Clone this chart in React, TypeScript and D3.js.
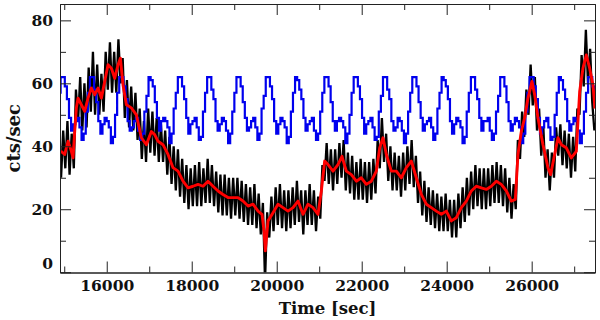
import React, { useEffect, useRef } from "react";
import { select, scaleLinear, line, curveStepAfter, axisBottom, axisLeft, axisTop, axisRight } from "d3";

const width = 600;
const height = 320;
const margin = { top: 4, right: 5, bottom: 47.5, left: 60 };

const timeDomain = [14900, 27490];
const rateDomain = [-0.1, 85.2];

const xMajorTicks = [16000, 18000, 20000, 22000, 24000, 26000];
const xMinorTicks = [15000, 17000, 19000, 21000, 23000, 25000, 27000];
const yMajorTicks = [0, 20, 40, 60, 80];
const yMinorTicks = [10, 30, 50, 70];

// raw light curve, 50 s bins
const blackStart = 14925;
const blackBin = 50;
const blackRate = [
  30, 45, 33, 48, 31, 44, 33, 58, 48, 62,
  45, 60, 46, 65, 51, 70, 50, 66, 50, 63,
  51, 70, 58, 73, 57, 70, 57, 74, 60, 68,
  49, 61, 46, 59, 45, 57, 42, 52, 36, 48,
  35, 52, 38, 51, 37, 49, 35, 47, 35, 45,
  31, 43, 28, 40, 26, 39, 24, 36, 22, 34,
  20, 33, 21, 34, 21, 35, 21, 33, 22, 36,
  22, 34, 21, 32, 19, 31, 18, 31, 18, 30,
  17, 30, 18, 30, 17, 29, 16, 28, 15, 27,
  15, 28, 14, 25, 12, 22, -3, 19, 11, 24,
  13, 27, 15, 28, 14, 26, 13, 26, 14, 27,
  15, 29, 16, 26, 12, 26, 15, 28, 15, 26,
  13, 24, 17, 34, 29, 41, 28, 39, 26, 39,
  28, 41, 30, 42, 26, 38, 25, 37, 23, 35,
  23, 36, 23, 35, 22, 35, 23, 36, 25, 42,
  33, 49, 35, 44, 29, 40, 26, 38, 26, 37,
  24, 38, 26, 40, 28, 42, 27, 37, 22, 32,
  18, 29, 16, 27, 15, 26, 14, 25, 13, 24,
  13, 25, 13, 23, 11, 23, 11, 25, 14, 27,
  16, 30, 18, 32, 20, 34, 21, 33, 20, 33,
  20, 33, 21, 34, 22, 35, 22, 34, 21, 33,
  19, 30, 17, 28, 20, 42, 36, 51, 43, 58,
  50, 66, 53, 62, 45, 52, 37, 46, 30, 39,
  26, 38, 30, 46, 37, 47, 34, 45, 33, 44,
  30, 43, 32, 52, 50, 69, 59, 77, 60, 71,
  54, 45,
];

// smoothed curve
const redTime = [
  14920, 15011, 15089, 15168, 15207, 15246, 15285, 15325, 15403, 15481,
  15560, 15638, 15717, 15795, 15874, 15952, 16030, 16109, 16187, 16266,
  16321, 16383, 16462, 16579, 16697, 16815, 16932, 17050, 17128, 17207,
  17324, 17442, 17560, 17677, 17795, 17913, 18030, 18148, 18266, 18383,
  18501, 18619, 18736, 18854, 18972, 19089, 19207, 19325, 19442, 19560,
  19654, 19701, 19732, 19795, 19913, 20030, 20148, 20266, 20383, 20501,
  20619, 20736, 20854, 20972, 21050, 21128, 21207, 21325, 21442, 21536,
  21638, 21756, 21874, 21991, 22109, 22227, 22344, 22423, 22501, 22580,
  22697, 22815, 22933, 23050, 23168, 23285, 23403, 23521, 23638, 23756,
  23874, 23991, 24109, 24227, 24344, 24462, 24580, 24697, 24815, 24932,
  25050, 25168, 25285, 25403, 25521, 25615, 25677, 25756, 25834, 25913,
  26007, 26070, 26148, 26266, 26383, 26446, 26540, 26619, 26697, 26815,
  26932, 27050, 27129, 27207, 27285, 27364, 27442, 27490,
];
const redRate = [
  38.5, 37.4, 41.6, 38.4, 36.3, 44.7, 52.2, 55.3, 53.2, 51.1,
  55.3, 58.5, 56.4, 58.5, 55.3, 60.6, 65.9, 64.8, 61.6, 65.9,
  68.0, 59.5, 53.2, 52.2, 50.0, 42.7, 40.5, 44.7, 43.7, 41.6,
  40.5, 37.4, 33.2, 32.1, 28.9, 26.8, 27.3, 27.9, 27.3, 28.9,
  27.3, 25.8, 24.7, 23.7, 23.7, 23.7, 22.6, 21.0, 21.6, 19.4,
  18.4, 13.1, 6.8, 16.3, 18.9, 21.6, 20.5, 19.4, 20.5, 22.6,
  18.4, 21.6, 20.5, 18.4, 25.8, 35.3, 34.2, 32.1, 34.2, 36.8,
  32.1, 31.0, 28.9, 30.0, 27.9, 28.9, 32.1, 39.5, 42.7, 37.4,
  32.1, 32.1, 30.0, 33.2, 35.3, 30.0, 24.7, 21.6, 20.5, 19.4,
  18.4, 19.4, 16.3, 17.3, 20.5, 22.6, 25.8, 27.3, 26.8, 26.3,
  27.3, 28.9, 27.9, 25.8, 22.6, 23.1, 37.4, 44.7, 49.0, 55.3,
  60.6, 56.4, 49.0, 40.5, 33.2, 31.0, 37.4, 42.7, 40.5, 39.5,
  36.3, 38.4, 57.4, 64.8, 69.0, 64.8, 59.5, 52.0,
];

// periodic model, its own bins
const blueStart = 14816;
const blueBin = 49.26;
const blueRate = [
  51, 57,
  62, 62, 59, 55, 49, 45, 47, 48, 49, 46, 42, 44, 51, 57,
  62, 62, 58, 54, 48, 44, 47, 49, 48, 46, 41, 43, 50, 57,
  62, 62, 59, 55, 48, 45, 46, 48, 49, 45, 42, 44, 51, 56,
  62, 61, 59, 54, 49, 45, 48, 49, 48, 46, 41, 44, 52, 57,
  62, 62, 59, 55, 49, 44, 47, 48, 49, 46, 42, 43, 51, 57,
  62, 62, 58, 55, 48, 45, 47, 49, 48, 45, 41, 44, 51, 57,
  62, 62, 59, 54, 49, 45, 46, 48, 49, 46, 42, 44, 52, 56,
  62, 62, 59, 55, 48, 44, 47, 49, 48, 46, 41, 43, 51, 57,
  62, 61, 58, 55, 49, 45, 47, 48, 49, 45, 42, 44, 51, 57,
  62, 62, 59, 54, 48, 45, 48, 49, 48, 46, 41, 44, 50, 57,
  62, 62, 59, 55, 49, 44, 47, 48, 49, 46, 42, 43, 51, 56,
  62, 62, 58, 55, 48, 45, 46, 49, 48, 45, 41, 44, 51, 57,
  62, 62, 59, 54, 49, 45, 47, 48, 49, 46, 42, 44, 52, 57,
  62, 61, 59, 55, 48, 44, 47, 49, 48, 46, 41, 43, 51, 57,
  62, 62, 58, 55, 49, 45, 48, 48, 49, 45, 42, 44, 51, 56,
  62, 62, 59, 54, 48, 45, 47, 49, 48, 46, 41, 44, 51, 57,
  62, 62, 59, 55, 49, 44, 46, 48, 49, 46, 42, 43, 50, 57,
  62, 61, 58, 55, 48, 45, 47, 49, 48, 45, 41, 44, 51, 57,
  62, 62, 59, 55,
];

const xLabel = "Time [sec]";
const yLabel = "cts/sec";
const serif = "'DejaVu Serif', serif";

function LightCurve() {
  const svgRef = useRef(null);

  useEffect(() => {
    const svg = select(svgRef.current);
    const left = margin.left;
    const right = width - margin.right;
    const top = margin.top;
    const bottom = height - margin.bottom;

    const x = scaleLinear().domain(timeDomain).range([left, right]);
    const y = scaleLinear().domain(rateDomain).range([bottom, top]);

    svg
      .select("#plot-clip rect")
      .attr("x", left)
      .attr("y", top)
      .attr("width", right - left)
      .attr("height", bottom - top);

    const blackLine = line<number>()
      .x((d, i) => x(blackStart + i * blackBin))
      .y((d) => y(d));
    svg
      .select(".black")
      .datum(blackRate)
      .attr("d", blackLine)
      .attr("fill", "none")
      .attr("stroke", "#000")
      .attr("stroke-width", 2.3)
      .attr("stroke-linejoin", "miter")
      .attr("stroke-miterlimit", 3);

    const blueLine = line<number>()
      .x((d, i) => x(blueStart + i * blueBin))
      .y((d) => y(d))
      .curve(curveStepAfter);
    svg
      .select(".blue")
      .datum(blueRate)
      .attr("d", blueLine)
      .attr("fill", "none")
      .attr("stroke", "#0000ee")
      .attr("stroke-width", 2.2);

    const redLine = line<number>()
      .x((d, i) => x(redTime[i]))
      .y((d) => y(d));
    svg
      .select(".red")
      .datum(redRate)
      .attr("d", redLine)
      .attr("fill", "none")
      .attr("stroke", "#ff0000")
      .attr("stroke-width", 2.9)
      .attr("stroke-linejoin", "round");

    // frame + inward ticks on all four sides
    const major = 11;
    const minor = 6;
    const styleAxis = (g) => {
      g.attr("color", "#222");
      g.selectAll(".domain").attr("stroke-width", 1);
      g.selectAll("text")
        .attr("font-family", serif)
        .attr("font-weight", "bold")
        .attr("font-size", 15.5)
        .attr("fill", "#111");
    };

    svg
      .select(".x-axis")
      .attr("transform", `translate(0,${bottom})`)
      .call(axisBottom(x).tickValues(xMajorTicks).tickFormat((d) => `${d}`).tickSize(-major).tickSizeOuter(0).tickPadding(7.5))
      .call(styleAxis);
    svg
      .select(".x-axis-minor")
      .attr("transform", `translate(0,${bottom})`)
      .call(axisBottom(x).tickValues(xMinorTicks).tickFormat(() => "").tickSize(-minor).tickSizeOuter(0))
      .call(styleAxis);
    svg
      .select(".x-axis-top")
      .attr("transform", `translate(0,${top})`)
      .call(axisTop(x).tickValues(xMajorTicks).tickFormat(() => "").tickSize(-major).tickSizeOuter(0))
      .call(styleAxis);
    svg
      .select(".x-axis-top-minor")
      .attr("transform", `translate(0,${top})`)
      .call(axisTop(x).tickValues(xMinorTicks).tickFormat(() => "").tickSize(-minor).tickSizeOuter(0))
      .call(styleAxis);

    svg
      .select(".y-axis")
      .attr("transform", `translate(${left},0)`)
      .call(axisLeft(y).tickValues(yMajorTicks).tickSize(-major).tickSizeOuter(0).tickPadding(7))
      .call(styleAxis);
    // keep the 0 label clear of the bottom frame
    svg
      .select(".y-axis")
      .selectAll(".tick")
      .filter((d) => d === 0)
      .select("text")
      .attr("y", -8.5);
    svg
      .select(".y-axis-minor")
      .attr("transform", `translate(${left},0)`)
      .call(axisLeft(y).tickValues(yMinorTicks).tickFormat(() => "").tickSize(-minor).tickSizeOuter(0))
      .call(styleAxis);
    svg
      .select(".y-axis-right")
      .attr("transform", `translate(${right},0)`)
      .call(axisRight(y).tickValues(yMajorTicks).tickFormat(() => "").tickSize(-major).tickSizeOuter(0))
      .call(styleAxis);
    svg
      .select(".y-axis-right-minor")
      .attr("transform", `translate(${right},0)`)
      .call(axisRight(y).tickValues(yMinorTicks).tickFormat(() => "").tickSize(-minor).tickSizeOuter(0))
      .call(styleAxis);

    svg
      .select(".x-label")
      .attr("x", (left + right) / 2)
      .attr("y", 314)
      .attr("text-anchor", "middle")
      .attr("font-family", serif)
      .attr("font-weight", "bold")
      .attr("font-size", 16.5)
      .attr("fill", "#111")
      .text(xLabel);

    svg
      .select(".y-label")
      .attr("transform", `translate(20,${(top + bottom) / 2}) rotate(-90)`)
      .attr("text-anchor", "middle")
      .attr("font-family", serif)
      .attr("font-weight", "bold")
      .attr("font-size", 18)
      .attr("fill", "#111")
      .text(yLabel);
  }, []);

  return (
    <svg
      ref={svgRef}
      width={width}
      height={height}
      style={{ position: "absolute", left: 0, top: 0, background: "#fff" }}
    >
      <defs>
        <clipPath id="plot-clip">
          <rect />
        </clipPath>
      </defs>
      <g clipPath="url(#plot-clip)">
        <path className="black" />
        <path className="blue" />
        <path className="red" />
      </g>
      <g className="x-axis" />
      <g className="x-axis-minor" />
      <g className="x-axis-top" />
      <g className="x-axis-top-minor" />
      <g className="y-axis" />
      <g className="y-axis-minor" />
      <g className="y-axis-right" />
      <g className="y-axis-right-minor" />
      <text className="x-label" />
      <text className="y-label" />
    </svg>
  );
}

export default function App() {
  return <LightCurve />;
}
